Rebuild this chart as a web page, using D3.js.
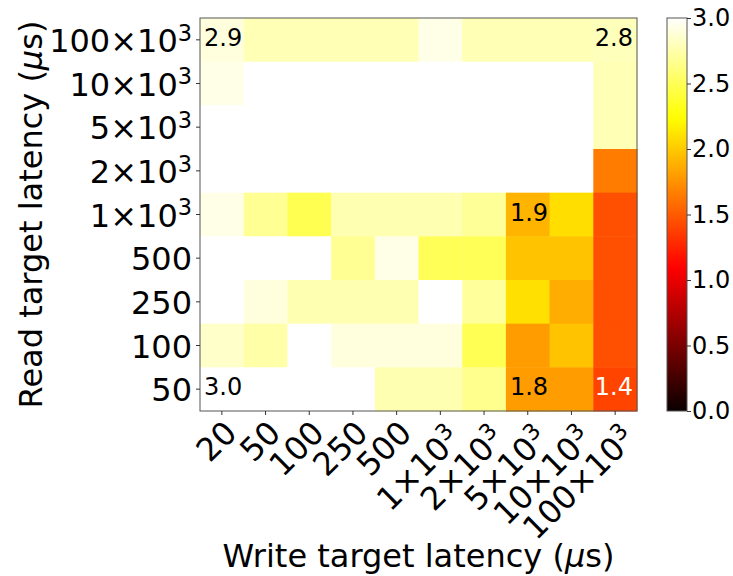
<!DOCTYPE html>
<html>
<head>
<meta charset="utf-8">
<script src="https://cdn.jsdelivr.net/npm/d3@7"></script>
<style>
  html, body { margin: 0; padding: 0; background: #fff; }
  text { font-family: "DejaVu Sans", sans-serif; fill: #000; }
</style>
</head>
<body>
<svg id="chart" width="733" height="576"></svg>
<script>
// Write target latency (columns), "^" marks a superscript exponent
const writeLabels = ["20", "50", "100", "250", "500", "1×10^3", "2×10^3", "5×10^3", "10×10^3", "100×10^3"];
// Read target latency (rows, top to bottom)
const readLabels = ["100×10^3", "10×10^3", "5×10^3", "2×10^3", "1×10^3", "500", "250", "100", "50"];

// Cell values, one row per read target, one column per write target
const row100k = [2.9, 2.78, 2.78, 2.78, 2.78, 2.93, 2.78, 2.78, 2.78, 2.8];
const row10k  = [2.93, 3.0, 3.0, 3.0, 3.0, 3.0, 3.0, 3.0, 3.0, 2.78];
const row5k   = [3.0, 3.0, 3.0, 3.0, 3.0, 3.0, 3.0, 3.0, 3.0, 2.78];
const row2k   = [3.0, 3.0, 3.0, 3.0, 3.0, 3.0, 3.0, 3.0, 3.0, 1.65];
const row1k   = [2.93, 2.68, 2.48, 2.77, 2.77, 2.77, 2.69, 1.9, 2.09, 1.45];
const row500  = [3.0, 3.0, 3.0, 2.68, 2.93, 2.5, 2.5, 1.97, 1.97, 1.45];
const row250  = [3.0, 2.9, 2.77, 2.77, 2.77, 3.0, 2.7, 2.1, 1.87, 1.45];
const row100  = [2.84, 2.74, 3.0, 2.9, 2.9, 2.9, 2.49, 1.8, 1.97, 1.45];
const row50   = [3.0, 3.0, 3.0, 3.0, 2.77, 2.77, 2.66, 1.8, 1.8, 1.4];
const values = [row100k, row10k, row5k, row2k, row1k, row500, row250, row100, row50];

// Cells whose value is printed: [row, column, alignment]
const annotated = [[0, 0, "start"], [0, 9, "end"], [4, 7, "start"], [8, 0, "start"], [8, 7, "start"], [8, 9, "end"]];

const colorTicks = [0, 0.5, 1.0, 1.5, 2.0, 2.5, 3.0];

// matplotlib "hot" colour map
function hot(t) {
  t = Math.max(0, Math.min(1, t));
  const r = t < 0.365079 ? 0.0416 + (1 - 0.0416) * t / 0.365079 : 1;
  const g = t < 0.365079 ? 0 : (t < 0.746032 ? (t - 0.365079) / (0.746032 - 0.365079) : 1);
  const b = t < 0.746032 ? 0 : (t - 0.746032) / (1 - 0.746032);
  return d3.rgb(r * 255, g * 255, b * 255).toString();
}

const svg = d3.select("#chart");
const plot = { left: 200, top: 18, right: 637, bottom: 411 };
const bar = { left: 667, right: 687 };
const tickFont = 32;

const x = d3.scaleBand().domain(d3.range(writeLabels.length)).range([plot.left, plot.right]);
const y = d3.scaleBand().domain(d3.range(readLabels.length)).range([plot.top, plot.bottom]);
const color = d3.scaleSequential(hot).domain([0, 3]);

// Cells
const cells = [];
values.forEach((row, i) => row.forEach((v, j) => cells.push({ i, j, v })));
svg.append("g").selectAll("rect").data(cells).join("rect")
  .attr("x", d => x(d.j)).attr("y", d => y(d.i))
  .attr("width", x.bandwidth() + 0.5).attr("height", y.bandwidth() + 0.5)
  .attr("fill", d => color(d.v));

// Printed values
svg.append("g").selectAll("text").data(annotated).join("text")
  .attr("x", d => d[2] === "start" ? x(d[1]) + 4 : x(d[1]) + x.bandwidth() - 4)
  .attr("y", d => y(d[0]) + y.bandwidth() / 2 - 2)
  .attr("dominant-baseline", "central")
  .attr("text-anchor", d => d[2])
  .style("font-size", "24px")
  .style("fill", d => values[d[0]][d[1]] < 1.6 ? "#fff" : "#000")
  .text(d => values[d[0]][d[1]].toFixed(1));

// Frame
svg.append("rect")
  .attr("x", plot.left).attr("y", plot.top)
  .attr("width", plot.right - plot.left).attr("height", plot.bottom - plot.top)
  .attr("fill", "none").attr("stroke", "#555").attr("stroke-width", 1);

function writeLabel(sel, label) {
  const parts = label.split("^");
  sel.text(null);
  sel.append("tspan").text(parts[0]);
  if (parts.length > 1) {
    sel.append("tspan").attr("dy", "-0.5em").style("font-size", "0.7em").text(parts[1]);
  }
}

// Y axis
const yAxis = svg.append("g");
readLabels.forEach((lab, i) => {
  const cy = y(i) + y.bandwidth() / 2;
  yAxis.append("line").attr("x1", plot.left - 4).attr("x2", plot.left)
    .attr("y1", cy).attr("y2", cy).attr("stroke", "#333");
  const t = yAxis.append("text")
    .attr("x", plot.left - 8).attr("y", cy + 12)
    .attr("text-anchor", "end").style("font-size", tickFont + "px");
  writeLabel(t, lab);
});

// X axis
const xAxis = svg.append("g");
writeLabels.forEach((lab, j) => {
  const cx = x(j) + x.bandwidth() / 2;
  xAxis.append("line").attr("x1", cx).attr("x2", cx)
    .attr("y1", plot.bottom).attr("y2", plot.bottom + 4).attr("stroke", "#333");
  const hasExp = lab.includes("^");
  const g = xAxis.append("g").attr("transform", `translate(${cx},${plot.bottom + 7}) rotate(-45)`);
  const t = g.append("text")
    .attr("x", 0).attr("y", hasExp ? tickFont * 0.98 : tickFont * 0.74)
    .attr("text-anchor", "end").style("font-size", tickFont + "px");
  writeLabel(t, lab);
});

// Axis titles
const xt = svg.append("text")
  .attr("x", (plot.left + plot.right) / 2).attr("y", 567)
  .attr("text-anchor", "middle").style("font-size", "32px");
xt.append("tspan").text("Write target latency (");
xt.append("tspan").style("font-style", "italic").text("μ");
xt.append("tspan").text("s)");

const yt = svg.append("text")
  .attr("transform", `translate(42,${(plot.top + plot.bottom) / 2}) rotate(-90)`)
  .attr("text-anchor", "middle").style("font-size", "32px");
yt.append("tspan").text("Read target latency (");
yt.append("tspan").style("font-style", "italic").text("μ");
yt.append("tspan").text("s)");

// Colour bar
const defs = svg.append("defs");
const grad = defs.append("linearGradient").attr("id", "hotbar")
  .attr("x1", 0).attr("y1", 1).attr("x2", 0).attr("y2", 0);
d3.range(0, 1.0001, 0.02).forEach(t => {
  grad.append("stop").attr("offset", t).attr("stop-color", hot(t));
});
const cy = d3.scaleLinear().domain([0, 3]).range([plot.bottom, plot.top]);
svg.append("rect")
  .attr("x", bar.left).attr("y", plot.top)
  .attr("width", bar.right - bar.left).attr("height", plot.bottom - plot.top)
  .attr("fill", "url(#hotbar)").attr("stroke", "#555").attr("stroke-width", 1);
const cAxis = svg.append("g").attr("transform", `translate(${bar.right},0)`)
  .call(d3.axisRight(cy).tickValues(colorTicks).tickFormat(d3.format(".1f")).tickSize(4).tickPadding(1));
cAxis.select(".domain").remove();
cAxis.selectAll("line").attr("stroke", "#333");
cAxis.selectAll("text").style("font-size", "24px").style("font-family", "DejaVu Sans, sans-serif");
</script>
</body>
</html>
